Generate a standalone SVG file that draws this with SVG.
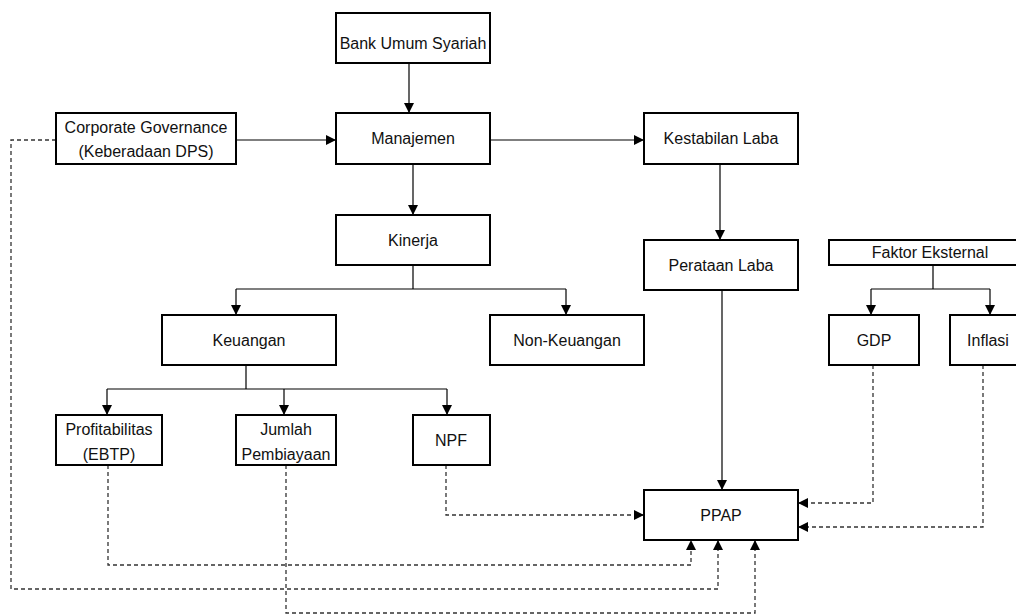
<svg xmlns="http://www.w3.org/2000/svg" width="1016" height="615" viewBox="0 0 1016 615">
<style>
.box{fill:#fff;stroke:#000;stroke-width:2}
.t{font-family:"Liberation Sans",Arial,sans-serif;font-size:16px;fill:#111;text-anchor:middle}
.s{fill:none;stroke:#000;stroke-width:1.2}
.d{fill:none;stroke:#333;stroke-width:1.3;stroke-dasharray:4,3}
</style>
<defs>
<marker id="a" markerUnits="userSpaceOnUse" markerWidth="10" markerHeight="10" viewBox="0 0 10 10" refX="10" refY="5" orient="auto">
<path d="M0,0 L10,5 L0,10 z" fill="#000"/>
</marker>
</defs>
<rect width="1016" height="615" fill="#fff"/>
<g id="connectors">
<path class="s" d="M409,63 V113" marker-end="url(#a)"/>
<path class="s" d="M236,140 H336" marker-end="url(#a)"/>
<path class="s" d="M490,140 H644" marker-end="url(#a)"/>
<path class="s" d="M413,164 V215" marker-end="url(#a)"/>
<path class="s" d="M720,164 V240" marker-end="url(#a)"/>
<path class="s" d="M413,265 V289 M236,289 H566"/>
<path class="s" d="M236,289 V315" marker-end="url(#a)"/>
<path class="s" d="M566,289 V315" marker-end="url(#a)"/>
<path class="s" d="M246,365 V389 M107,389 H447"/>
<path class="s" d="M107,389 V415" marker-end="url(#a)"/>
<path class="s" d="M284,389 V415" marker-end="url(#a)"/>
<path class="s" d="M447,389 V415" marker-end="url(#a)"/>
<path class="s" d="M933,265 V289 M871,289 H990"/>
<path class="s" d="M871,289 V315" marker-end="url(#a)"/>
<path class="s" d="M990,289 V315" marker-end="url(#a)"/>
<path class="s" d="M722,290 V490" marker-end="url(#a)"/>
<path class="d" d="M446,465 V515 H644" marker-end="url(#a)"/>
<path class="d" d="M873,365 V503 H798" marker-end="url(#a)"/>
<path class="d" d="M983,365 V527 H798" marker-end="url(#a)"/>
<path class="d" d="M108,465 V565 H691 V540" marker-end="url(#a)"/>
<path class="d" d="M56,140 H11 V589 H718 V540" marker-end="url(#a)"/>
<path class="d" d="M286,465 V613 H755 V540" marker-end="url(#a)"/>
</g>
<g id="bus"><rect class="box" x="336" y="13" width="154" height="50"/><text class="t" x="413" y="49">Bank Umum Syariah</text></g>
<g id="cg"><rect class="box" x="56" y="113" width="180" height="51"/><text class="t" x="146" y="133">Corporate Governance</text><text class="t" x="146" y="157">(Keberadaan DPS)</text></g>
<g id="man"><rect class="box" x="336" y="113" width="154" height="51"/><text class="t" x="413" y="144">Manajemen</text></g>
<g id="kes"><rect class="box" x="644" y="113" width="154" height="51"/><text class="t" x="721" y="144">Kestabilan Laba</text></g>
<g id="kin"><rect class="box" x="336" y="215" width="154" height="50"/><text class="t" x="413" y="246">Kinerja</text></g>
<g id="per"><rect class="box" x="644" y="240" width="154" height="50"/><text class="t" x="721" y="271">Perataan Laba</text></g>
<g id="fak"><rect class="box" x="829" y="240" width="201" height="25"/><text class="t" x="930" y="258">Faktor Eksternal</text></g>
<g id="keu"><rect class="box" x="162" y="315" width="174" height="50"/><text class="t" x="249" y="346">Keuangan</text></g>
<g id="non"><rect class="box" x="490" y="315" width="154" height="50"/><text class="t" x="567" y="346">Non-Keuangan</text></g>
<g id="gdp"><rect class="box" x="829" y="315" width="90" height="50"/><text class="t" x="874" y="346">GDP</text></g>
<g id="inf"><rect class="box" x="950" y="315" width="77" height="50"/><text class="t" x="988" y="346">Inflasi</text></g>
<g id="pro"><rect class="box" x="56" y="415" width="106" height="50"/><text class="t" x="109" y="435">Profitabilitas</text><text class="t" x="109" y="460">(EBTP)</text></g>
<g id="jum"><rect class="box" x="236" y="415" width="100" height="50"/><text class="t" x="286" y="435">Jumlah</text><text class="t" x="286" y="460">Pembiayaan</text></g>
<g id="npf"><rect class="box" x="413" y="415" width="77" height="50"/><text class="t" x="451" y="446">NPF</text></g>
<g id="ppap"><rect class="box" x="644" y="490" width="154" height="50"/><text class="t" x="721" y="521">PPAP</text></g>
</svg>
